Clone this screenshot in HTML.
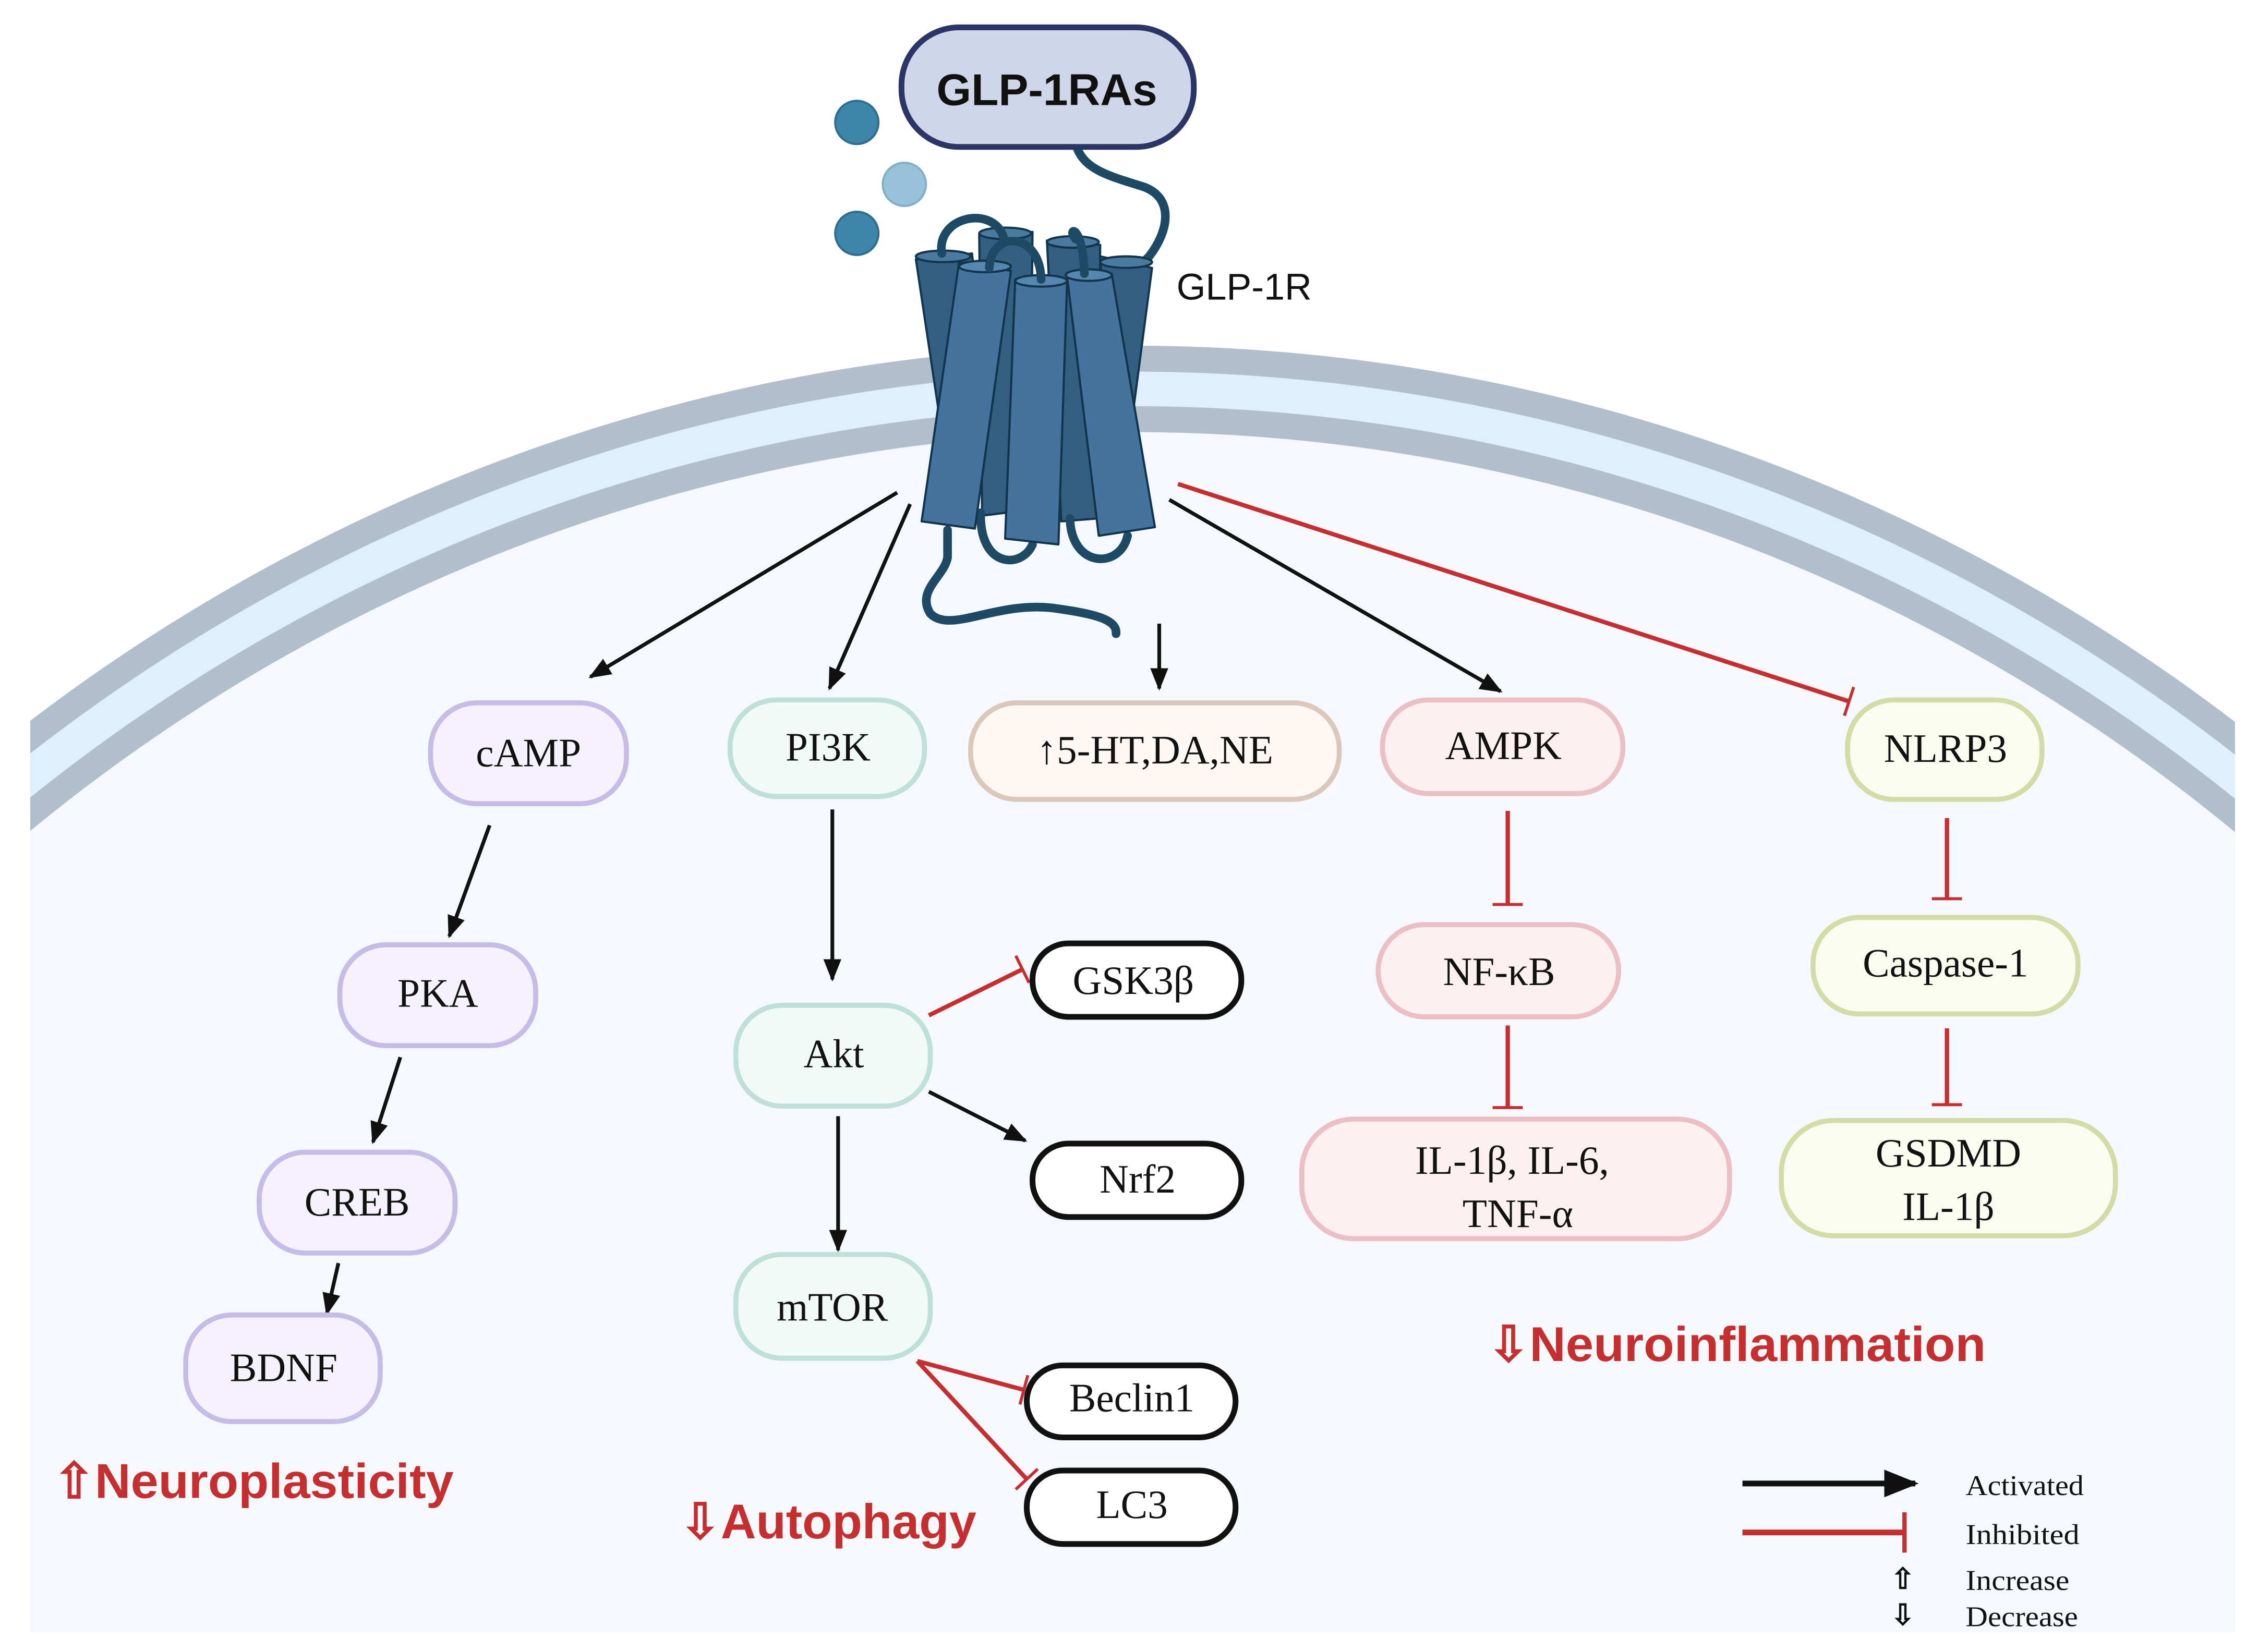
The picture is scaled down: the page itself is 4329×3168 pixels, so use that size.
<!DOCTYPE html>
<html><head><meta charset="utf-8"><style>
html,body{margin:0;padding:0;background:#fff;width:4329px;height:3168px;overflow:hidden;}
svg{display:block;position:absolute;left:0;top:0;}
.n{font-family:"Liberation Serif",serif;font-size:28px;fill:#111;text-anchor:middle;}
.lg{font-family:"Liberation Serif",serif;font-size:20px;fill:#111;}
.rd{font-family:"Liberation Sans Narrow","Liberation Sans",sans-serif;font-weight:bold;font-size:34px;fill:#c62f2f;}
</style></head><body>
<svg width="4329" height="3168" viewBox="0 0 1568 1147" preserveAspectRatio="none" xmlns="http://www.w3.org/2000/svg">
<defs>
<clipPath id="cl"><rect x="21" y="0" width="1531" height="1133"/></clipPath>
<marker id="ar" viewBox="0 0 10 10" refX="9" refY="5" markerWidth="6" markerHeight="6" orient="auto" markerUnits="strokeWidth"><path d="M0,1 L10,5 L0,9 z" fill="#111"/></marker>
<marker id="ib" viewBox="0 0 2 20" refX="1" refY="10" markerWidth="0.8" markerHeight="7" orient="auto" markerUnits="strokeWidth"><rect x="0" y="0" width="2" height="20" fill="#c62f2f"/></marker>
</defs>
<rect width="1568" height="1147" fill="#fff"/>
<g clip-path="url(#cl)">
<ellipse cx="786" cy="1600" rx="1300" ry="1360" fill="#b0bfcb"/>
<ellipse cx="786" cy="1600" rx="1282" ry="1342" fill="#e0effc"/>
<ellipse cx="786" cy="1600" rx="1258" ry="1318" fill="#b0bfcb"/>
<ellipse cx="786" cy="1600" rx="1240" ry="1300" fill="#f5f9fd"/>
</g>
<circle cx="595" cy="85" r="15" fill="#3d86aa" stroke="#2f6e8e" stroke-width="1.5"/>
<circle cx="628" cy="128" r="15" fill="#97c2d8" stroke="#84b0c6" stroke-width="1.5"/>
<circle cx="595" cy="162" r="15" fill="#3d86aa" stroke="#2f6e8e" stroke-width="1.5"/>
<path d="M747,100 C752,118 770,122 795,130 C815,138 812,160 798,178 L790,186" fill="none" stroke="#1e4a66" stroke-width="6" stroke-linecap="round"/>
<rect x="626" y="19" width="203" height="83" rx="40" fill="#cfd6ea" stroke="#2b3566" stroke-width="4"/>
<text x="727" y="73" text-anchor="middle" font-family="Liberation Sans,sans-serif" font-weight="bold" font-size="31" fill="#111">GLP-1RAs</text>
<text x="817" y="208" font-family="Liberation Sans,sans-serif" font-size="26" fill="#111">GLP-1R</text>
<g stroke="#12354d" stroke-width="1.5" stroke-linejoin="round">
<path d="M636,180 L675,176 L692,330 L660,340 Z" fill="#335f82"/>
<path d="M764,178 L800,186 L785,300 L770,300 Z" fill="#335f82"/>
<path d="M680,163 L717,161 L715,354 L682,358 Z" fill="#335f82"/>
<path d="M727,167 L764,170 L762,360 L737,362 Z" fill="#335f82"/>
<ellipse cx="698" cy="162" rx="18" ry="4" fill="#4a7a9e"/>
<ellipse cx="745" cy="168" rx="18" ry="4" fill="#4a7a9e"/>
<ellipse cx="655" cy="178" rx="19" ry="4" fill="#4a7a9e"/>
<ellipse cx="782" cy="182" rx="18" ry="4" fill="#4a7a9e"/>
</g>
<g fill="none" stroke="#1e4a66" stroke-width="6" stroke-linecap="round">
<path d="M654,176 C650,150 690,142 697,165"/>
<path d="M681,356 C680,395 710,395 717,378"/>
<path d="M743,360 C744,395 778,395 783,372"/>
<path d="M658,368 L658,387 C656,400 636,410 646,426 C660,440 690,418 730,422 C760,426 776,430 775,440"/>
</g>
<g stroke="#12354d" stroke-width="1.5" stroke-linejoin="round" fill="#44749e">
<path d="M666,182 L702,188 L677,367 L640,362 Z"/>
<ellipse cx="684" cy="185" rx="18" ry="4" fill="#5587ae"/>
<path d="M705,194 L741,196 L735,378 L698,374 Z"/>
<ellipse cx="723" cy="195" rx="18" ry="4" fill="#5587ae"/>
<path d="M741,192 L772,190 L802,366 L763,372 Z"/>
<ellipse cx="756" cy="191" rx="16" ry="4" fill="#5587ae"/>
</g>
<g fill="none" stroke="#1e4a66" stroke-width="6" stroke-linecap="round">
<path d="M687,186 C688,160 722,160 723,194"/>
<path d="M747,166 C740,158 752,154 753,190"/>
</g>
<g stroke="#111" stroke-width="2.6" fill="none" marker-end="url(#ar)">
<line x1="623" y1="342" x2="410" y2="470"/>
<line x1="632" y1="350" x2="576" y2="478"/>
<line x1="805" y1="433" x2="805" y2="478"/>
<line x1="812" y1="347" x2="1042" y2="480"/>
<line x1="340" y1="573" x2="312" y2="650"/>
<line x1="278" y1="734" x2="259" y2="793"/>
<line x1="235" y1="877" x2="227" y2="912"/>
<line x1="578" y1="562" x2="578" y2="680"/>
<line x1="582" y1="775" x2="582" y2="868"/>
<line x1="645" y1="758" x2="712" y2="792"/>
</g>
<g stroke="#c62f2f" stroke-width="3" fill="none" marker-end="url(#ib)">
<line x1="818" y1="336" x2="1284" y2="487"/>
<line x1="645" y1="705" x2="710" y2="673"/>
<line x1="637" y1="945" x2="711" y2="965"/>
<line x1="637" y1="945" x2="713" y2="1027"/>
<line x1="1047" y1="563" x2="1047" y2="628"/>
<line x1="1047" y1="712" x2="1047" y2="769"/>
<line x1="1352" y1="568" x2="1352" y2="624"/>
<line x1="1352" y1="714" x2="1352" y2="767"/>
</g>
<g stroke-width="3.5">
<rect x="299" y="488" width="136" height="70" rx="32" fill="#f5f2fd" stroke="#c5bde8"/>
<rect x="507" y="486" width="135" height="67" rx="32" fill="#f2faf8" stroke="#bfe0d9"/>
<rect x="674" y="488" width="256" height="67" rx="32" fill="#fdf8f4" stroke="#dcc8bb"/>
<rect x="960" y="486" width="167" height="65" rx="32" fill="#fdf0f0" stroke="#ecbfc4"/>
<rect x="1283" y="486" width="135" height="69" rx="32" fill="#fafcef" stroke="#d3dba6"/>
<rect x="236" y="656" width="136" height="70" rx="32" fill="#f5f2fd" stroke="#c5bde8"/>
<rect x="511" y="698" width="135" height="70" rx="32" fill="#f2faf8" stroke="#bfe0d9"/>
<rect x="957" y="642" width="167" height="64" rx="32" fill="#fdf0f0" stroke="#ecbfc4"/>
<rect x="1259" y="637" width="184" height="67" rx="32" fill="#fafcef" stroke="#d3dba6"/>
<rect x="904" y="777" width="297" height="83" rx="36" fill="#fdf0f0" stroke="#ecbfc4"/>
<rect x="1237" y="778" width="232" height="80" rx="36" fill="#fafcef" stroke="#d3dba6"/>
<rect x="180" y="800" width="136" height="70" rx="32" fill="#f5f2fd" stroke="#c5bde8"/>
<rect x="511" y="871" width="135" height="72" rx="32" fill="#f2faf8" stroke="#bfe0d9"/>
<rect x="129" y="913" width="135" height="74" rx="32" fill="#f5f2fd" stroke="#c5bde8"/>
</g>
<g stroke="#111" stroke-width="4" fill="#fff">
<rect x="717" y="655" width="145" height="51" rx="25"/>
<rect x="717" y="794" width="145" height="51" rx="25"/>
<rect x="713" y="948" width="145" height="50" rx="25"/>
<rect x="713" y="1021" width="145" height="51" rx="25"/>
</g>
<text class="n" x="367" y="532">cAMP</text>
<text class="n" x="575" y="528">PI3K</text>
<text class="n" x="802" y="530">↑5-HT,DA,NE</text>
<text class="n" x="1044" y="527">AMPK</text>
<text class="n" x="1351" y="529">NLRP3</text>
<text class="n" x="304" y="699">PKA</text>
<text class="n" x="579" y="741">Akt</text>
<text class="n" x="1041" y="684">NF-κB</text>
<text class="n" x="1351" y="678">Caspase-1</text>
<text class="n" x="1050" y="815">IL-1β, IL-6,</text>
<text class="n" x="1054" y="852">TNF-α</text>
<text class="n" x="1353" y="810">GSDMD</text>
<text class="n" x="1353" y="847">IL-1β</text>
<text class="n" x="248" y="844">CREB</text>
<text class="n" x="578" y="917">mTOR</text>
<text class="n" x="197" y="959">BDNF</text>
<text class="n" x="787" y="690" font-size="26">GSK3β</text>
<text class="n" x="790" y="828" font-size="26">Nrf2</text>
<text class="n" x="786" y="980" font-size="26">Beclin1</text>
<text class="n" x="786" y="1054" font-size="26">LC3</text>
<text class="rd" x="37" y="1040" textLength="278" lengthAdjust="spacingAndGlyphs">⇧Neuroplasticity</text>
<text class="rd" x="472" y="1068" textLength="206" lengthAdjust="spacingAndGlyphs">⇩Autophagy</text>
<text class="rd" x="1033" y="945" textLength="346" lengthAdjust="spacingAndGlyphs">⇩Neuroinflammation</text>
<line x1="1210" y1="1030" x2="1330" y2="1030" stroke="#111" stroke-width="4" marker-end="url(#ar)"/>
<line x1="1210" y1="1064" x2="1323" y2="1064" stroke="#c62f2f" stroke-width="4"/>
<rect x="1321" y="1050" width="3" height="28" fill="#c62f2f"/>
<text class="lg" x="1365" y="1038" textLength="82" lengthAdjust="spacingAndGlyphs">Activated</text>
<text class="lg" x="1365" y="1072" textLength="79" lengthAdjust="spacingAndGlyphs">Inhibited</text>
<text class="lg" x="1313" y="1103" font-size="22" font-weight="bold">⇧</text>
<text class="lg" x="1365" y="1104" textLength="72" lengthAdjust="spacingAndGlyphs">Increase</text>
<text class="lg" x="1313" y="1128" font-size="22" font-weight="bold">⇩</text>
<text class="lg" x="1365" y="1129" textLength="78" lengthAdjust="spacingAndGlyphs">Decrease</text>
</svg>
</body></html>
